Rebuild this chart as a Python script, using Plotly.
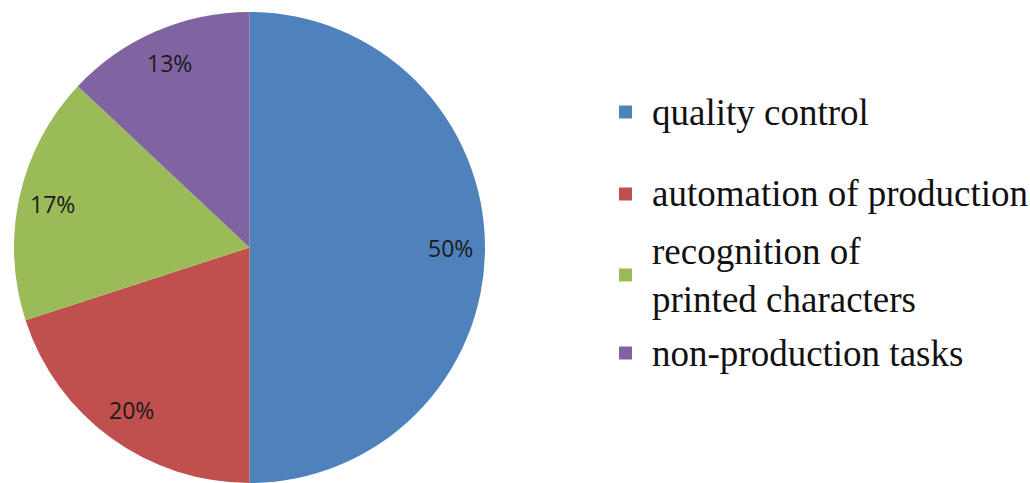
import math
import plotly.graph_objects as go

# Share of machine-vision applications by task area
categories = [
    "quality control",
    "automation of production",
    "recognition of<br>printed characters",
    "non-production tasks",
]
shares = [50, 20, 17, 13]
colors = ["#4F81BD", "#C0504D", "#9BBB59", "#8064A2"]

W, H = 1030, 483
SERIF = "Liberation Serif"

# pie domain in pixels
x0_px, x1_px = 12, 487
y0_px, y1_px = 12, 483  # from top
cx_px = (x0_px + x1_px) / 2
radius_px = min(x1_px - x0_px, y1_px - y0_px) / 2
cy_px = y0_px + radius_px

fig = go.Figure()
fig.add_trace(
    go.Pie(
        labels=categories,
        values=shares,
        sort=False,
        direction="clockwise",
        rotation=0,
        marker=dict(colors=colors, line=dict(width=0)),
        textinfo="none",
        hoverinfo="label+percent",
        showlegend=False,
        domain=dict(x=[x0_px / W, x1_px / W], y=[1 - y1_px / H, 1 - y0_px / H]),
    )
)

# percentage labels placed along each slice's mid-angle
total = sum(shares)
annotations = []
cum = 0
for v in shares:
    mid = (cum + v / 2) / total * 2 * math.pi
    cum += v
    r = 0.855 * radius_px
    px = cx_px + r * math.sin(mid)
    py = cy_px - r * math.cos(mid)
    annotations.append(
        dict(
            x=px / W,
            y=1 - py / H,
            xref="paper",
            yref="paper",
            text=f"{v}%",
            showarrow=False,
            font=dict(family="Open Sans", size=23, color="#1a1a1a"),
            xanchor="center",
            yanchor="middle",
        )
    )

# key on the right: colour square + serif label per category
legend_rows = [112, 194, 275, 353]
shapes = []
sq = 13
for name, color, row in zip(categories, colors, legend_rows):
    shapes.append(
        dict(
            type="rect",
            xref="paper",
            yref="paper",
            x0=619 / W,
            x1=(619 + sq) / W,
            y0=1 - (row + sq / 2) / H,
            y1=1 - (row - sq / 2) / H,
            fillcolor=color,
            line=dict(width=0),
        )
    )
    annotations.append(
        dict(
            x=650 / W,
            y=1 - row / H,
            xref="paper",
            yref="paper",
            text=name,
            showarrow=False,
            align="left",
            xanchor="left",
            yanchor="middle",
            font=dict(family=SERIF, size=37, color="#111111"),
        )
    )

fig.update_layout(
    width=W,
    height=H,
    autosize=False,
    margin=dict(l=0, r=0, t=0, b=0),
    paper_bgcolor="white",
    plot_bgcolor="white",
    showlegend=False,
    annotations=annotations,
    shapes=shapes,
)

fig.write_html("out.html")
